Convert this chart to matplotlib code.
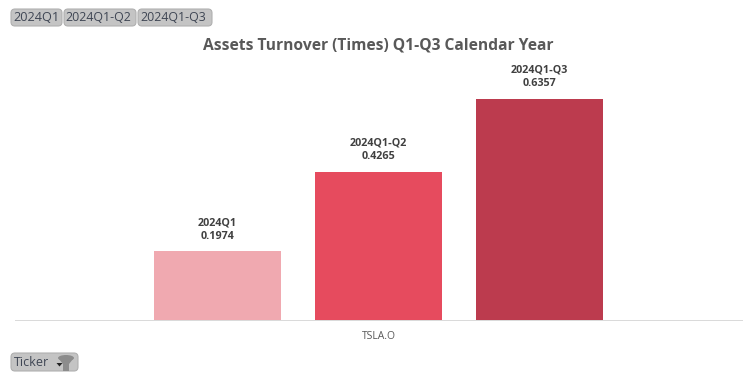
import matplotlib
matplotlib.use("Agg")
import matplotlib.pyplot as plt
from matplotlib.patches import FancyBboxPatch, Polygon, Ellipse
from matplotlib.transforms import Affine2D

periods = ["2024Q1", "2024Q1-Q2", "2024Q1-Q3"]
values = [0.1974, 0.4265, 0.6357]
colors = ["#F0A9B0", "#E64B5E", "#BC3B4E"]
ticker = "TSLA.O"
title = "Assets Turnover (Times) Q1-Q3 Calendar Year"

W, H = 756, 378
plt.rcParams["font.family"] = ["Open Sans", "DejaVu Sans"]
fig = plt.figure(figsize=(W / 100, H / 100), dpi=100, facecolor="white")
L, R, B, T = 15, 742, 320, 60
ax = fig.add_axes([L / W, 1 - B / H, (R - L) / W, (B - T) / H])
step = 161
x = list(range(len(values)))
ax.bar(x, values, width=127 / step, color=colors)
ax.set_xlim(1 - (378.5 - L) / step, 1 + (R - 378.5) / step)
ax.set_ylim(0, (B - T) / 348)
for s in ("top", "left", "right"):
    ax.spines[s].set_visible(False)
ax.spines["bottom"].set_color("#D9D9D9")
ax.spines["bottom"].set_linewidth(0.7)
ax.set_yticks([])
ax.set_xticks([1], [ticker], fontsize=7.5, color="#595959")
ax.tick_params(axis="x", length=0, pad=8)
for xi, v, p in zip(x, values, periods):
    ax.annotate(f"{p}\n{v:.4f}", (xi, v), xytext=(0, 7), textcoords="offset points",
                ha="center", va="bottom", fontsize=7.75, fontweight="bold",
                color="#404040", linespacing=1.3, annotation_clip=False)
fig.text(378 / W, 1 - 46 / H, title, ha="center", va="center", fontsize=11.25,
         fontweight="bold", color="#595959")

px = Affine2D().scale(1, -1).translate(0, H)

def pill(x0, y0, x1, y1, label, tx, size):
    fig.add_artist(FancyBboxPatch((x0 + 2, y0 + 2), x1 - x0 - 4, y1 - y0 - 4,
                                  boxstyle="round,pad=2,rounding_size=4",
                                  fc="#C4C4C4", ec="#B0B0B0", lw=0.8, transform=px))
    fig.text(tx / W, 1 - (y0 + y1) / 2 / H, label, ha="left", va="center",
             fontsize=size, color="#3F4654", zorder=5)

pill(11, 9, 62, 26, periods[0], 13.5, 9.2)
pill(64, 9, 136, 26, periods[1], 65.5, 8.9)
pill(138, 9, 212, 26, periods[2], 140, 8.9)
pill(11, 353, 78, 371, "Ticker", 14, 9)
fig.add_artist(Ellipse((66, 358), 16, 6, fc="#8C8C8C", ec="none", transform=px, zorder=6))
fig.add_artist(Polygon([(59, 359), (73, 359), (69, 364), (69, 371), (63, 371), (63, 364)],
                       closed=True, fc="#8C8C8C", ec="none", transform=px, zorder=6))
fig.add_artist(Polygon([(56.5, 363), (62.5, 363), (59.5, 366.5)], closed=True, fc="#222222",
                       ec="none", transform=px, zorder=7))
fig.savefig("out.png", dpi=100)
